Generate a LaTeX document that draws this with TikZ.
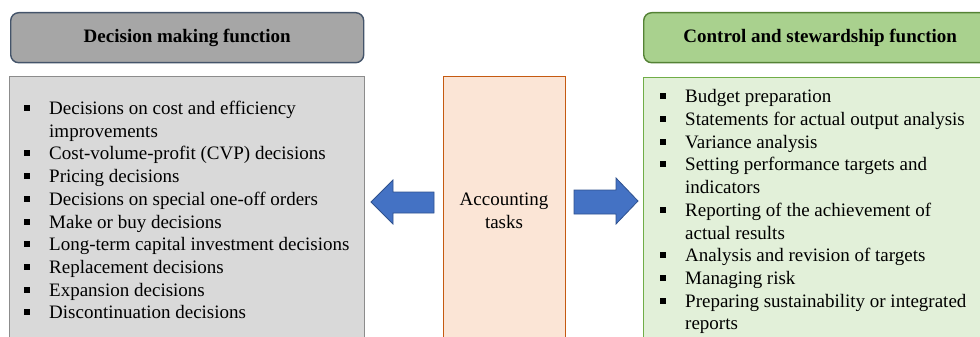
\documentclass[tikz,border=0pt]{standalone}
\usepackage{fontspec}
\setmainfont{Liberation Serif}
\definecolor{lhfill}{HTML}{A6A6A6}
\definecolor{lhdraw}{HTML}{44546A}
\definecolor{lbfill}{HTML}{D9D9D9}
\definecolor{lbdraw}{HTML}{8C8C8C}
\definecolor{cfill}{HTML}{FBE5D6}
\definecolor{cdraw}{HTML}{C55A11}
\definecolor{rhfill}{HTML}{A9D18E}
\definecolor{rhdraw}{HTML}{548235}
\definecolor{rbfill}{HTML}{E2F0D9}
\definecolor{rbdraw}{HTML}{70AD47}
\definecolor{afill}{HTML}{4472C4}
\definecolor{adraw}{HTML}{2F528F}
\newcommand{\bul}{\makebox[25pt][l]{\raisebox{3.5pt}{\rule{6pt}{6pt}}}}
\newcommand{\ind}{\hspace*{25pt}}
\tikzset{
  x=1pt, y=-1pt,
  headbox/.style={draw, line width=1.4pt, rounded corners=8pt, anchor=north west, inner sep=0pt, font=\fontsize{19}{22}\selectfont\bfseries},
  bodybox/.style={draw, line width=1.4pt, anchor=north west, inner sep=0pt},
  listtext/.style={anchor=north west, inner sep=0pt, align=left, font=\fontsize{19}{22.7}\selectfont},
  blockarrow/.style={draw=adraw, fill=afill, line width=0.8pt, line join=miter},
}
\begin{document}
\begin{tikzpicture}
\useasboundingbox (0,0) rectangle (980,337);
\clip (0,0) rectangle (980,337);
% headers
\node[headbox, fill=lhfill, draw=lhdraw, minimum width=353pt, minimum height=50pt] (lh) at (10,12) {Decision making function};
\node[headbox, fill=rhfill, draw=rhdraw, minimum width=353pt, minimum height=50pt] (rh) at (643,12) {Control and stewardship function};
% bodies
\node[bodybox, fill=lbfill, draw=lbdraw, minimum width=355pt, minimum height=300pt] (lb) at (9,76) {};
\node[bodybox, fill=cfill, draw=cdraw, minimum width=122pt, minimum height=300pt] (cb) at (443,76) {};
\node[bodybox, fill=rbfill, draw=rbdraw, minimum width=360pt, minimum height=300pt] (rb) at (643,77) {};
% center text
\node[align=center, font=\fontsize{19}{22.7}\selectfont, inner sep=0pt] (ct) at (504,210.5) {Accounting\\tasks};
% lists
\node[listtext] (ll) at (24,101) {%
\bul Decisions on cost and efficiency\\
\ind improvements\\
\bul Cost-volume-profit (CVP) decisions\\
\bul Pricing decisions\\
\bul Decisions on special one-off orders\\
\bul Make or buy decisions\\
\bul Long-term capital investment decisions\\
\bul Replacement decisions\\
\bul Expansion decisions\\
\bul Discontinuation decisions};
\node[listtext] (rl) at (660,89.5) {%
\bul Budget preparation\\
\bul Statements for actual output analysis\\
\bul Variance analysis\\
\bul Setting performance targets and\\
\ind indicators\\
\bul Reporting of the achievement of\\
\ind actual results\\
\bul Analysis and revision of targets\\
\bul Managing risk\\
\bul Preparing sustainability or integrated\\
\ind reports};
% arrows
\draw[blockarrow] (434,192) -- (393,192) -- (393,180) -- (371,202) -- (393,224) -- (393,213) -- (434,213) -- cycle;
\draw[blockarrow] (574,190) -- (616,190) -- (616,178) -- (638,201) -- (616,224) -- (616,214) -- (574,214) -- cycle;
\end{tikzpicture}
\end{document}
